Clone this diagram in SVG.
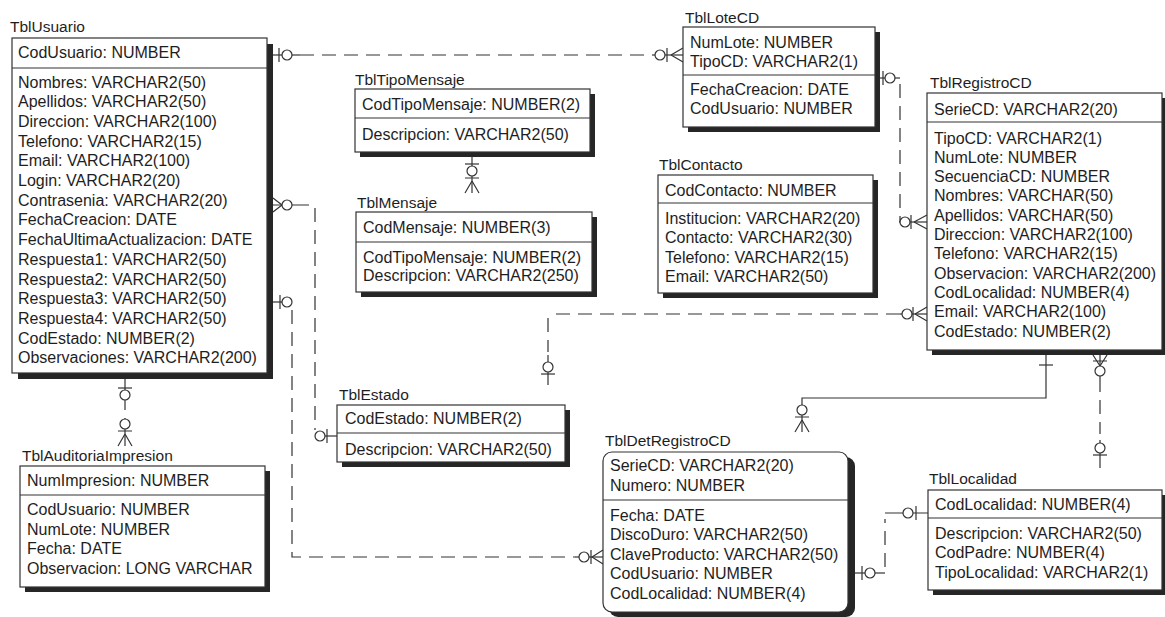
<svg xmlns="http://www.w3.org/2000/svg" width="1165" height="617" viewBox="0 0 1165 617">
<style>
.bg{fill:#fff}
.box{fill:#fff;stroke:#333;stroke-width:1.2}
.sh{fill:#262626}
.t{font-family:"Liberation Sans",Arial,sans-serif;font-size:16px;fill:#1e1e1e}
.ti{font-family:"Liberation Sans",Arial,sans-serif;font-size:15.5px;fill:#1e1e1e}
.sep{stroke:#333;stroke-width:1.2}
.ln{fill:none;stroke:#333;stroke-width:1.2}
.d{stroke-dasharray:14 8}
.c{fill:#fff;stroke:#333;stroke-width:1.2}
</style>
<rect class="bg" x="0" y="0" width="1165" height="617"/>

<g id="connectors">
  <!-- TblUsuario - TblLoteCD -->
  <path class="ln" d="M273 55 H300"/>
  <path class="ln d" d="M300 55 H652"/>
  <path class="ln" d="M652 55 H683"/>
  <path class="ln" d="M279 48 V62"/>
  <circle class="c" cx="287" cy="55" r="5"/>
  <circle class="c" cx="660" cy="55" r="5"/>
  <path class="ln" d="M667 48 V62 M671 55 L683 48 M671 55 L683 62"/>

  <!-- TblUsuario - TblEstado -->
  <path class="ln" d="M273 205 H309"/>
  <path class="ln d" d="M315 208 V430"/>
  <path class="ln" d="M315 436 H338"/>
  <path class="ln" d="M282 205 L273 198 M282 205 L273 212"/>
  <circle class="c" cx="287" cy="205" r="5"/>
  <circle class="c" cx="320" cy="436" r="5"/>
  <path class="ln" d="M327 429 V443"/>

  <!-- TblUsuario - TblDetRegistroCD -->
  <path class="ln" d="M273 302 H292"/>
  <path class="ln d" d="M292 310 V557 H575"/>
  <path class="ln" d="M575 557 H603"/>
  <path class="ln" d="M280 295 V309"/>
  <circle class="c" cx="287" cy="302" r="5"/>
  <circle class="c" cx="584" cy="557" r="5"/>
  <path class="ln" d="M591 550 V564 M592 557 L603 550 M592 557 L603 564"/>

  <!-- TblUsuario - TblAuditoriaImpresion -->
  <path class="ln" d="M125 379 V410 M125 418 V446"/>
  <path class="ln" d="M118 388 H132"/>
  <circle class="c" cx="125" cy="395" r="5"/>
  <circle class="c" cx="125" cy="424" r="5"/>
  <path class="ln" d="M118 431 H132 M125 434 L118 446 M125 434 L132 446"/>

  <!-- TblTipoMensaje - TblMensaje -->
  <path class="ln" d="M472 157 V193"/>
  <path class="ln" d="M465 164 H479"/>
  <circle class="c" cx="472" cy="171" r="5"/>
  <path class="ln" d="M465 178 H479 M472 181 L465 193 M472 181 L479 193"/>

  <!-- TblLoteCD - TblRegistroCD -->
  <path class="ln" d="M879 78 H900"/>
  <path class="ln d" d="M900 84 V222"/>
  <path class="ln" d="M899 222 H927"/>
  <path class="ln" d="M883 71 V85"/>
  <circle class="c" cx="890" cy="78" r="5"/>
  <circle class="c" cx="905" cy="222" r="5"/>
  <path class="ln" d="M911 215 V229 M914 222 L927 215 M914 222 L927 229"/>

  <!-- TblEstado - TblRegistroCD -->
  <path class="ln d" d="M900 314 H552"/>
  <path class="ln" d="M900 314 H927"/>
  <path class="ln d" d="M548 318 V352"/>
  <path class="ln" d="M548 355 V385"/>
  <circle class="c" cx="548" cy="367" r="5"/>
  <path class="ln" d="M541 374 H555"/>
  <circle class="c" cx="907" cy="314" r="5"/>
  <path class="ln" d="M913 307 V321 M915 314 L927 307 M915 314 L927 321"/>

  <!-- TblRegistroCD - TblDetRegistroCD (identifying) -->
  <path class="ln" d="M1046 355 V398 H802 V432"/>
  <path class="ln" d="M1039 365 H1053"/>
  <circle class="c" cx="802" cy="410" r="5"/>
  <path class="ln" d="M795 417 H809 M802 420 L795 432 M802 420 L809 432"/>

  <!-- TblRegistroCD - TblLocalidad -->
  <path class="ln" d="M1100 355 V392"/>
  <path class="ln d" d="M1100 400 V434"/>
  <path class="ln" d="M1100 440 V468"/>
  <path class="ln" d="M1100 366 L1093 355 M1100 366 L1107 355 M1093 361 H1107"/>
  <circle class="c" cx="1100" cy="371" r="5"/>
  <circle class="c" cx="1100" cy="448" r="5"/>
  <path class="ln" d="M1093 455 H1107"/>

  <!-- TblDetRegistroCD - TblLocalidad -->
  <path class="ln" d="M855 573 H885"/>
  <path class="ln d" d="M885 567 V519"/>
  <path class="ln" d="M885 513 H928"/>
  <path class="ln" d="M862 566 V580"/>
  <circle class="c" cx="870" cy="573" r="5"/>
  <circle class="c" cx="908" cy="513" r="5"/>
  <path class="ln" d="M916 506 V520"/>
</g>

<g id="TblUsuario">
  <text class="ti" x="10" y="32">TblUsuario</text>
  <rect class="sh" x="18" y="44" width="255" height="335"/>
  <rect class="box" x="12" y="38" width="255" height="335"/>
  <line class="sep" x1="12" y1="68" x2="267" y2="68"/>
  <text class="t" x="18" y="57.5">CodUsuario: NUMBER</text>
  <text class="t" x="18" y="87.5">Nombres: VARCHAR2(50)</text>
  <text class="t" x="18" y="107.2">Apellidos: VARCHAR2(50)</text>
  <text class="t" x="18" y="126.9">Direccion: VARCHAR2(100)</text>
  <text class="t" x="18" y="146.6">Telefono: VARCHAR2(15)</text>
  <text class="t" x="18" y="166.3">Email: VARCHAR2(100)</text>
  <text class="t" x="18" y="186">Login: VARCHAR2(20)</text>
  <text class="t" x="18" y="205.7">Contrasenia: VARCHAR2(20)</text>
  <text class="t" x="18" y="225.4">FechaCreacion: DATE</text>
  <text class="t" x="18" y="245.1">FechaUltimaActualizacion: DATE</text>
  <text class="t" x="18" y="264.8">Respuesta1: VARCHAR2(50)</text>
  <text class="t" x="18" y="284.5">Respuesta2: VARCHAR2(50)</text>
  <text class="t" x="18" y="304.2">Respuesta3: VARCHAR2(50)</text>
  <text class="t" x="18" y="323.9">Respuesta4: VARCHAR2(50)</text>
  <text class="t" x="18" y="343.6">CodEstado: NUMBER(2)</text>
  <text class="t" x="18" y="363.3">Observaciones: VARCHAR2(200)</text>
</g>

<g id="TblAuditoriaImpresion">
  <text class="ti" x="22" y="461">TblAuditoriaImpresion</text>
  <rect class="sh" x="25" y="471" width="245" height="121"/>
  <rect class="box" x="20" y="466" width="245" height="121"/>
  <line class="sep" x1="20" y1="495" x2="265" y2="495"/>
  <text class="t" x="27" y="485.5">NumImpresion: NUMBER</text>
  <text class="t" x="27" y="515">CodUsuario: NUMBER</text>
  <text class="t" x="27" y="534.7">NumLote: NUMBER</text>
  <text class="t" x="27" y="554.4">Fecha: DATE</text>
  <text class="t" x="27" y="574.1">Observacion: LONG VARCHAR</text>
</g>

<g id="TblTipoMensaje">
  <text class="ti" x="355" y="85">TblTipoMensaje</text>
  <rect class="sh" x="360" y="94" width="235" height="63"/>
  <rect class="box" x="355" y="89" width="235" height="63"/>
  <line class="sep" x1="355" y1="118" x2="590" y2="118"/>
  <text class="t" x="362" y="109.5">CodTipoMensaje: NUMBER(2)</text>
  <text class="t" x="362" y="139.5">Descripcion: VARCHAR2(50)</text>
</g>

<g id="TblMensaje">
  <text class="ti" x="357" y="208">TblMensaje</text>
  <rect class="sh" x="361" y="217" width="236" height="80"/>
  <rect class="box" x="356" y="212" width="236" height="80"/>
  <line class="sep" x1="356" y1="242" x2="592" y2="242"/>
  <text class="t" x="363" y="233">CodMensaje: NUMBER(3)</text>
  <text class="t" x="363" y="262.5">CodTipoMensaje: NUMBER(2)</text>
  <text class="t" x="363" y="281">Descripcion: VARCHAR2(250)</text>
</g>

<g id="TblLoteCD">
  <text class="ti" x="685" y="23">TblLoteCD</text>
  <rect class="sh" x="688" y="32" width="192" height="100"/>
  <rect class="box" x="683" y="27" width="192" height="100"/>
  <line class="sep" x1="683" y1="75" x2="875" y2="75"/>
  <text class="t" x="690" y="47.5">NumLote: NUMBER</text>
  <text class="t" x="690" y="67">TipoCD: VARCHAR2(1)</text>
  <text class="t" x="690" y="94.5">FechaCreacion: DATE</text>
  <text class="t" x="690" y="113.5">CodUsuario: NUMBER</text>
</g>

<g id="TblContacto">
  <text class="ti" x="659" y="170">TblContacto</text>
  <rect class="sh" x="663" y="180" width="215" height="118"/>
  <rect class="box" x="658" y="175" width="215" height="118"/>
  <line class="sep" x1="658" y1="203" x2="873" y2="203"/>
  <text class="t" x="665" y="195.5">CodContacto: NUMBER</text>
  <text class="t" x="665" y="223.5">Institucion: VARCHAR2(20)</text>
  <text class="t" x="665" y="242.5">Contacto: VARCHAR2(30)</text>
  <text class="t" x="665" y="262.5">Telefono: VARCHAR2(15)</text>
  <text class="t" x="665" y="281.5">Email: VARCHAR2(50)</text>
</g>

<g id="TblRegistroCD">
  <text class="ti" x="930" y="88">TblRegistroCD</text>
  <rect class="sh" x="932" y="98" width="236" height="257"/>
  <rect class="box" x="927" y="93" width="235" height="257"/>
  <line class="sep" x1="927" y1="122" x2="1162" y2="122"/>
  <text class="t" x="934" y="114.5">SerieCD: VARCHAR2(20)</text>
  <text class="t" x="934" y="143.5">TipoCD: VARCHAR2(1)</text>
  <text class="t" x="934" y="162.8">NumLote: NUMBER</text>
  <text class="t" x="934" y="182.1">SecuenciaCD: NUMBER</text>
  <text class="t" x="934" y="201.4">Nombres: VARCHAR(50)</text>
  <text class="t" x="934" y="220.7">Apellidos: VARCHAR(50)</text>
  <text class="t" x="934" y="240">Direccion: VARCHAR2(100)</text>
  <text class="t" x="934" y="259.3">Telefono: VARCHAR2(15)</text>
  <text class="t" x="934" y="278.6">Observacion: VARCHAR2(200)</text>
  <text class="t" x="934" y="297.9">CodLocalidad: NUMBER(4)</text>
  <text class="t" x="934" y="317.2">Email: VARCHAR2(100)</text>
  <text class="t" x="934" y="336.5">CodEstado: NUMBER(2)</text>
</g>

<g id="TblEstado">
  <text class="ti" x="339" y="400">TblEstado</text>
  <rect class="sh" x="342" y="410" width="228" height="57"/>
  <rect class="box" x="337" y="405" width="228" height="57"/>
  <line class="sep" x1="337" y1="433" x2="565" y2="433"/>
  <text class="t" x="345" y="423.5">CodEstado: NUMBER(2)</text>
  <text class="t" x="345" y="454.5">Descripcion: VARCHAR2(50)</text>
</g>

<g id="TblDetRegistroCD">
  <text class="ti" x="605" y="446">TblDetRegistroCD</text>
  <rect class="sh" x="609" y="457" width="246" height="160" rx="9"/>
  <rect class="box" x="603" y="452" width="245" height="160" rx="9"/>
  <line class="sep" x1="603" y1="500" x2="848" y2="500"/>
  <text class="t" x="610" y="470.5">SerieCD: VARCHAR2(20)</text>
  <text class="t" x="610" y="490.5">Numero: NUMBER</text>
  <text class="t" x="610" y="520.5">Fecha: DATE</text>
  <text class="t" x="610" y="540">DiscoDuro: VARCHAR2(50)</text>
  <text class="t" x="610" y="559.5">ClaveProducto: VARCHAR2(50)</text>
  <text class="t" x="610" y="579">CodUsuario: NUMBER</text>
  <text class="t" x="610" y="598.5">CodLocalidad: NUMBER(4)</text>
</g>

<g id="TblLocalidad">
  <text class="ti" x="929" y="483.5">TblLocalidad</text>
  <rect class="sh" x="933" y="495" width="234" height="100"/>
  <rect class="box" x="928" y="490" width="234" height="100"/>
  <line class="sep" x1="928" y1="518" x2="1162" y2="518"/>
  <text class="t" x="935" y="509.5">CodLocalidad: NUMBER(4)</text>
  <text class="t" x="935" y="538.5">Descripcion: VARCHAR2(50)</text>
  <text class="t" x="935" y="558">CodPadre: NUMBER(4)</text>
  <text class="t" x="935" y="577.5">TipoLocalidad: VARCHAR2(1)</text>
</g>
</svg>
